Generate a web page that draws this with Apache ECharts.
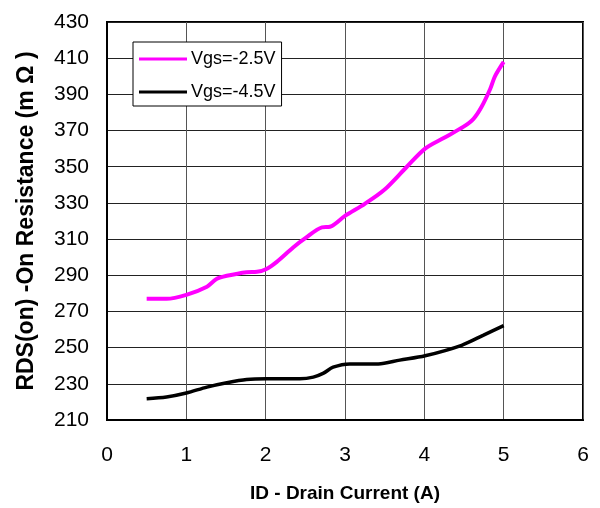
<!DOCTYPE html>
<html>
<head>
<meta charset="utf-8">
<script src="https://cdn.jsdelivr.net/npm/echarts@6/dist/echarts.min.js"></script>
<style>
    html, body { margin: 0; padding: 0; background: #fff; }
    #chart { width: 600px; height: 508px; }
</style>
</head>
<body>
<div id="chart"></div>
<script>
// Vgs = -2.5V curve
var xVgs25 = [0.5, 0.75, 1.0, 1.26, 1.38, 1.51, 1.76, 1.89, 2.01, 2.14, 2.35, 2.5, 2.71, 2.81, 3.0, 3.25, 3.5, 3.78, 4.01, 4.25, 4.49, 4.62, 4.72, 4.83, 4.89, 5.0];
var yVgs25 = [277, 277, 279.2, 283.7, 287.9, 289.7, 291.7, 291.9, 293.5, 297.4, 305.5, 310.5, 316.5, 316.8, 322.8, 329.5, 337.4, 350, 360, 366, 372, 376.5, 383, 393, 400, 408];
// Vgs = -4.5V curve
var xVgs45 = [0.5, 0.75, 1.0, 1.26, 1.51, 1.76, 2.01, 2.43, 2.6, 2.73, 2.85, 3.06, 3.42, 3.69, 4.01, 4.47, 4.74, 5.0];
var yVgs45 = [221.8, 222.7, 224.9, 228.2, 230.6, 232.4, 232.8, 232.8, 233.7, 235.9, 239.2, 241, 241, 243.1, 245.5, 251.3, 256.8, 262.2];

var seriesNames = ['Vgs=-2.5V', 'Vgs=-4.5V'];

function pairs(xs, ys) {
    var out = [];
    for (var i = 0; i < xs.length; i++) out.push([xs[i], ys[i]]);
    return out;
}

var chart = echarts.init(document.getElementById('chart'));
var option = {
    animation: false,
    backgroundColor: '#fff',
    textStyle: { fontFamily: 'Liberation Sans, Arial, sans-serif' },
    grid: {
        left: 107, right: 17, top: 22, bottom: 83,
        show: true, borderColor: '#000', borderWidth: 2
    },
    legend: {
        data: seriesNames,
        orient: 'vertical',
        left: 133, top: 42,
        backgroundColor: '#fff',
        borderColor: '#000', borderWidth: 1,
        padding: [8, 6, 5, 6],
        itemWidth: 48, itemHeight: 14, itemGap: 15,
        icon: 'path://M0,6 L48,6 L48,9 L0,9 Z',
        textStyle: { fontSize: 18, color: '#000', padding: [0, 0, 0, -1] }
    },
    xAxis: {
        type: 'value',
        min: 0, max: 6, interval: 1,
        name: 'ID - Drain Current (A)',
        nameLocation: 'middle', nameGap: 64,
        nameTextStyle: { fontSize: 19, fontWeight: 'bold', color: '#000' },
        axisLine: { lineStyle: { color: '#000', width: 2 } },
        axisTick: { show: false },
        axisLabel: { fontSize: 21, color: '#000', margin: 25 },
        splitLine: { lineStyle: { color: '#555', width: 1 } }
    },
    yAxis: {
        type: 'value',
        min: 210, max: 430, interval: 20,
        name: 'RDS(on) -On Resistance (m Ω )',
        nameLocation: 'middle', nameGap: 69,
        nameTextStyle: { fontSize: 23, fontWeight: 'bold', color: '#000' },
        axisLine: { lineStyle: { color: '#000', width: 2 } },
        axisTick: { show: false },
        axisLabel: { fontSize: 21, color: '#000', margin: 18 },
        splitLine: { lineStyle: { color: '#222', width: 1 } }
    },
    series: [
        {
            name: seriesNames[0],
            type: 'line',
            smooth: 0.3,
            showSymbol: false,
            symbol: 'none',
            color: '#ff00ff',
            lineStyle: { color: '#ff00ff', width: 4 },
            data: pairs(xVgs25, yVgs25)
        },
        {
            name: seriesNames[1],
            type: 'line',
            smooth: 0.3,
            showSymbol: false,
            symbol: 'none',
            color: '#000',
            lineStyle: { color: '#000', width: 3.5 },
            data: pairs(xVgs45, yVgs45)
        }
    ]
};
chart.setOption(option);
</script>
</body>
</html>
